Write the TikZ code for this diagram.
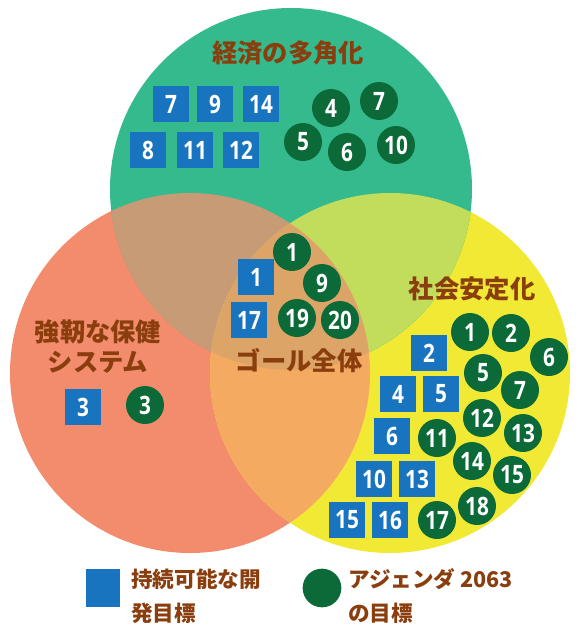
\documentclass[tikz,border=0pt]{standalone}
\usepackage{fontspec}
\newfontfamily\jp{Noto Sans CJK JP}
\newfontfamily\numfont{Open Sans}[FakeStretch=0.82]
\definecolor{cG}{HTML}{34BA8D}
\definecolor{cR}{HTML}{F38C6D}
\definecolor{cY}{HTML}{F2E934}
\definecolor{cGR}{HTML}{C79B76}
\definecolor{cGY}{HTML}{C2DC5C}
\definecolor{cRY}{HTML}{F5AA62}
\definecolor{cGRY}{HTML}{DCA466}
\definecolor{sdgblue}{HTML}{1874BE}
\definecolor{agdgreen}{HTML}{0B6A38}
\definecolor{labelbrown}{HTML}{8A3E0E}
\tikzset{
  sdg/.style={fill=sdgblue, minimum size=27pt, inner sep=0pt, text=white, font=\numfont\bfseries\fontsize{19}{19}\selectfont},
  agd/.style={circle, fill=agdgreen, minimum size=28.5pt, inner sep=0pt, text=white, font=\numfont\bfseries\fontsize{19}{19}\selectfont},
  ttl/.style={text=labelbrown, font=\jp\bfseries\fontsize{19}{22.5}\selectfont, inner sep=0pt},
  leg/.style={text=labelbrown, font=\jp\bfseries\fontsize{16.2}{25.5}\selectfont, inner sep=0pt, align=left, anchor=west}
}
\begin{document}
\begin{tikzpicture}[x=0.75pt, y=-0.75pt]
\useasboundingbox (0,0) rectangle (579,625);
\coordinate (G) at (291,189);
\coordinate (R) at (190,373);
\coordinate (Y) at (390,373);
\def\rr{180}
\fill[cR] (R) circle[radius=\rr];
\fill[cY] (Y) circle[radius=\rr];
\fill[cG] (G) circle[radius=181];
\begin{scope}
  \clip (G) circle[radius=181];
  \fill[cGR] (R) circle[radius=\rr];
  \fill[cGY] (Y) circle[radius=\rr];
\end{scope}
\begin{scope}
  \clip (R) circle[radius=\rr];
  \fill[cRY] (Y) circle[radius=\rr];
\end{scope}
\begin{scope}
  \clip (G) circle[radius=181];
  \clip (R) circle[radius=\rr];
  \fill[cGRY] (Y) circle[radius=\rr];
\end{scope}

% titles
\node[ttl] (tEcon) at (288,53) {経済の多角化};
\node[ttl, align=center] (tHealth) at (98,347) {強靭な保健\\システム};
\node[ttl] (tSoc) at (472,289) {社会安定化};
\node[ttl] (tAll) at (299,361) {ゴール全体};

% economic
\node[sdg] (e7) at (171,104) {7};
\node[sdg] (e9) at (215,104) {9};
\node[sdg] (e14) at (261,104) {14};
\node[sdg] (e8) at (148,150) {8};
\node[sdg] (e11) at (195,150) {11};
\node[sdg] (e12) at (241,150) {12};
\node[agd] (a4) at (331,108) {4};
\node[agd] (a7) at (379,101) {7};
\node[agd] (a5) at (303,142) {5};
\node[agd] (a6) at (347,152) {6};
\node[agd] (a10) at (396,145) {10};

% health
\node[sdg] (h3) at (83,407) {3};
\node[agd] (ha3) at (145,405) {3};

% all goals
\node[sdg] (g1) at (256,277) {1};
\node[sdg] (g17) at (249,320) {17};
\node[agd] (ga1) at (292,252) {1};
\node[agd] (ga9) at (322,283) {9};
\node[agd] (ga19) at (297,318) {19};
\node[agd] (ga20) at (340,320) {20};

% social
\node[sdg] (s2) at (429,353) {2};
\node[sdg] (s4) at (398,394) {4};
\node[sdg] (s5) at (441,394) {5};
\node[sdg] (s6) at (392,436) {6};
\node[sdg] (s10) at (374,479) {10};
\node[sdg] (s13) at (417,479) {13};
\node[sdg] (s15) at (347,520) {15};
\node[sdg] (s16) at (390,520) {16};
\node[agd] (sa1) at (470,332) {1};
\node[agd] (sa2) at (511,333) {2};
\node[agd] (sa6) at (549,357) {6};
\node[agd] (sa5) at (483,373) {5};
\node[agd] (sa7) at (520,390) {7};
\node[agd] (sa12) at (482,418) {12};
\node[agd] (sa13) at (523,433) {13};
\node[agd] (sa11) at (437,438) {11};
\node[agd] (sa14) at (472,461) {14};
\node[agd] (sa15) at (512,475) {15};
\node[agd] (sa18) at (477,506) {18};
\node[agd] (sa17) at (437,520) {17};

% legend
\node[fill=sdgblue, minimum width=26pt, minimum height=28pt, inner sep=0pt] (legB) at (103,588) {};
\node[leg] (legBt) at (131,596) {持続可能な開\\発目標};
\node[circle, fill=agdgreen, minimum size=29pt, inner sep=0pt] (legG) at (322,588) {};
\node[leg] (legGt) at (348,596) {アジェンダ 2063\\の目標};
\end{tikzpicture}
\end{document}
